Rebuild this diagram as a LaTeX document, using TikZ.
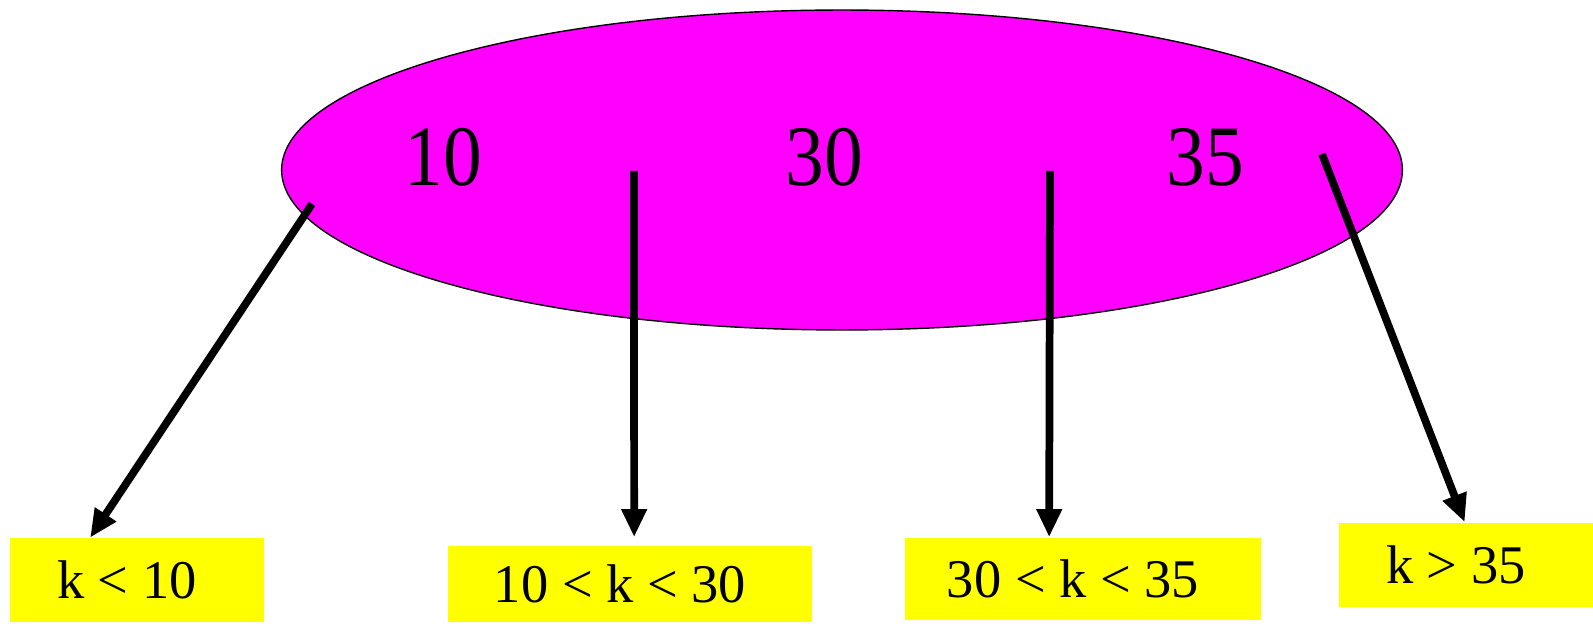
\documentclass[tikz,border=0pt]{standalone}
\usepackage{fontspec}
\setmainfont{Liberation Serif}
\newfontfamily\keyfont[FakeStretch=0.9]{Liberation Serif}
\usetikzlibrary{arrows.meta,positioning,shapes.geometric}
\definecolor{nodepink}{RGB}{255,0,255}
\definecolor{rangeyellow}{RGB}{255,255,0}
\tikzset{
  bnode/.style={
    ellipse,
    draw=black,
    line width=0.8pt,
    fill=nodepink,
    inner sep=0pt,
    minimum width=22.42cm,
    minimum height=6.4cm
  },
  keytext/.style={font=\keyfont\fontsize{49}{55}\selectfont, inner sep=0pt},
  rangebox/.style={
    fill=rangeyellow,
    inner sep=0pt,
    font=\fontsize{31}{36}\selectfont,
    execute at begin node=\kern-0.4cm
  },
  ptr/.style={-{Triangle[length=0.56cm, width=0.48cm]}, line width=4.4pt, draw=black}
}

\begin{document}
\begin{tikzpicture}[x=0.02cm, y=-0.02cm]
        \useasboundingbox (0,0) rectangle (1593,624);
        \node[bnode] (page) at (842,170) {};
        \node[keytext] (key10) at (443,157) {10};
        \node[keytext] (key30) at (824,157) {30};
        \node[keytext] (key35) at (1205,157) {35};
        \coordinate (p0) at (312,204);
        \coordinate (p1) at (634,171);
        \coordinate (p2) at (1050,171);
        \coordinate (p3) at (1322,154);
        \node[rangebox, minimum width=5.1cm, minimum height=1.68cm] (lt10) at (137,580) {k < 10};
        \node[rangebox, minimum width=7.3cm, minimum height=1.54cm] (mid1) at (630,584) {10 < k < 30};
        \node[rangebox, minimum width=7.14cm, minimum height=1.66cm] (mid2) at (1083,579) {30 < k < 35};
        \node[rangebox, minimum width=5.08cm, minimum height=1.7cm] (gt35) at (1466,565) {k > 35};
        \draw[ptr] (p0) -- ([xshift=1.62cm]lt10.north west);
        \draw[ptr] (p1) -- ([xshift=3.74cm, yshift=0.16cm]mid1.north west);
        \draw[ptr] (p2) -- ([xshift=2.9cm]mid2.north west);
        \draw[ptr] (p3) -- ([xshift=2.52cm]gt35.north west);
      \end{tikzpicture}
\end{document}
